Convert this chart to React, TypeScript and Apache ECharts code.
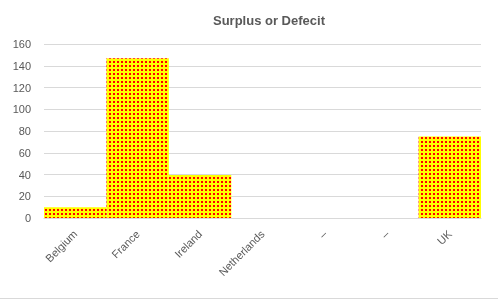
import React, { useEffect, useRef } from "react";
import * as echarts from "echarts";

const categories = ["Belgium", "France", "Ireland", "Netherlands", "–", "–", "UK"];
const values = [10, 147, 39.5, 0, 0, 0, 75];
const yTicks = { min: 0, max: 160, interval: 20 };
const title = "Surplus or Defecit";

function makePattern(): string {
  const c = document.createElement("canvas");
  c.width = 4;
  c.height = 4;
  const ctx = c.getContext("2d")!;
  ctx.fillStyle = "#ffff00";
  ctx.fillRect(0, 0, 4, 4);
  ctx.fillStyle = "#ff0000";
  ctx.fillRect(1, 1, 2, 2);
  return c.toDataURL();
}

export default function App() {
  const ref = useRef<HTMLDivElement>(null);
  useEffect(() => {
    if (!ref.current) return;
    const chart = echarts.init(ref.current, undefined, { renderer: "svg" });
    const pattern = makePattern();
    chart.setOption({
      animation: false,
      title: {
        text: title,
        left: 208,
        top: 9,
        textStyle: { fontSize: 13, fontWeight: "bold", color: "#595959", fontFamily: "Liberation Sans" },
      },
      grid: { left: 44, right: 17, top: 44, bottom: 89, containLabel: false },
      xAxis: {
        type: "category",
        data: categories,
        axisLine: { lineStyle: { color: "#d9d9d9" } },
        axisTick: { show: false },
        axisLabel: { rotate: 45, color: "#595959", fontSize: 11, fontFamily: "Liberation Sans", margin: 14, interval: 0 },
      },
      yAxis: {
        type: "value",
        min: yTicks.min,
        max: yTicks.max,
        interval: yTicks.interval,
        axisLine: { show: false },
        axisTick: { show: false },
        splitLine: { lineStyle: { color: "#d9d9d9" } },
        axisLabel: { color: "#595959", fontSize: 11, fontFamily: "Liberation Sans", margin: 13 },
      },
      series: [
        {
          type: "bar",
          data: values,
          barCategoryGap: 0,
          itemStyle: {
            color: { image: pattern, repeat: "repeat" },
          },
        },
      ],
      graphic: [
        {
          type: "line",
          shape: { x1: 0, y1: 298.5, x2: 498, y2: 298.5 },
          style: { stroke: "#d9d9d9", lineWidth: 1 },
        },
      ],
    });
    return () => chart.dispose();
  }, []);
  return <div ref={ref} style={{ position: "fixed", left: 0, top: 0, width: 498, height: 307 }} />;
}
